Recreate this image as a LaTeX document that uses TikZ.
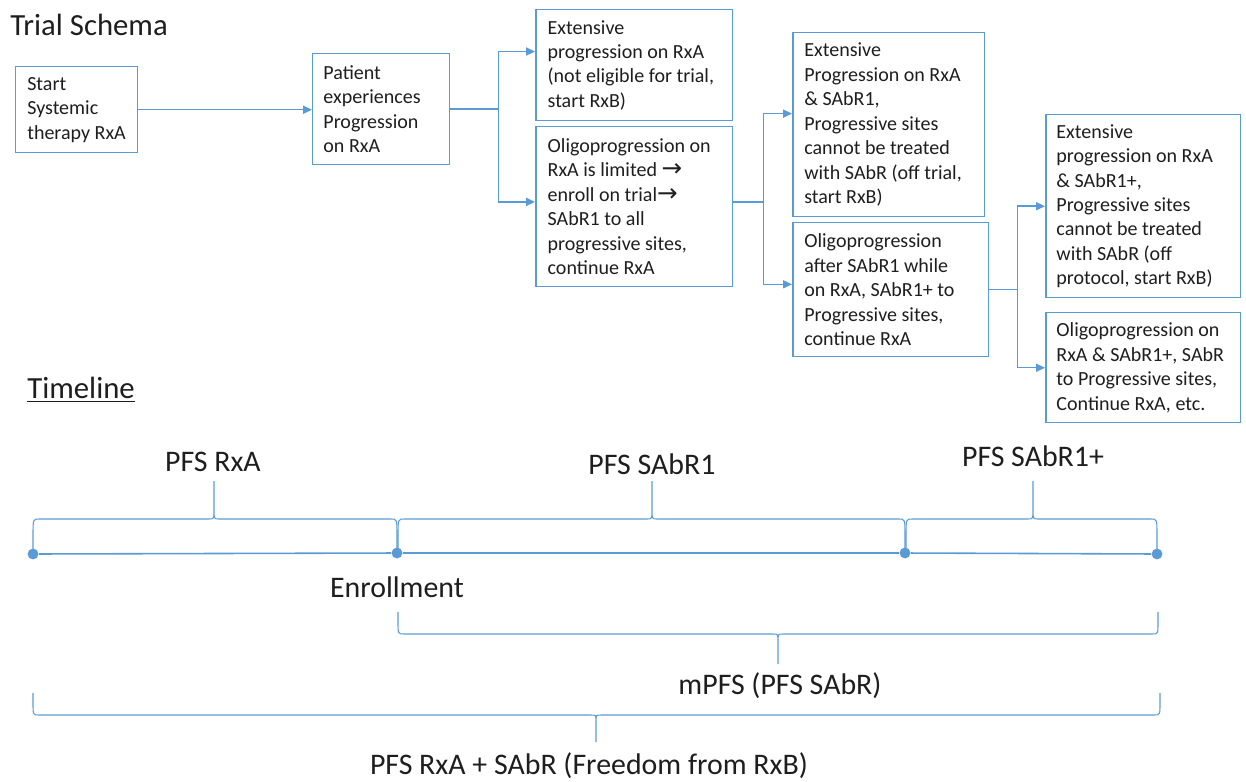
\documentclass[tikz,border=0pt]{standalone}
\usepackage{fontspec}
\setmainfont{Carlito}
\newfontfamily\symf{DejaVu Sans}
\usetikzlibrary{arrows.meta,calc}
\definecolor{bl}{HTML}{5B9BD5}
\definecolor{tx}{HTML}{1E1E1E}
\newcommand\tlbrace[6]{% x1 x2 xm yend yline ytip
  \draw[brc] (#1,#4) -- (#1,{#5+0.55*(#4-#5)}) .. controls (#1,#5) .. (#1+6,#5)
    -- (#3-5,#5) .. controls (#3,#5) .. (#3,{#5+0.25*(#6-#5)}) -- (#3,#6)
    (#3,{#5+0.25*(#6-#5)}) .. controls (#3,#5) .. (#3+5,#5)
    -- (#2-6,#5) .. controls (#2,#5) .. (#2,{#5+0.55*(#4-#5)}) -- (#2,#4);}
\newcommand\rarr{{\symf\fontsize{14}{13.9}\selectfont →}}
\begin{document}
\begin{tikzpicture}[x=0.02cm,y=-0.02cm,
  box/.style={draw=bl, line width=0.85pt, anchor=north west, inner sep=0pt},
  txt/.style={anchor=west, align=left, inner sep=0pt, text=tx, font=\fontsize{11.4}{13.9}\selectfont},
  arr/.style={draw=bl, line width=0.85pt, -{Triangle[length=5pt,width=4.5pt]}},
  tl/.style={draw=bl, line width=0.9pt},
  brc/.style={draw=bl, line width=0.6pt},
  dot/.style={circle, fill=bl, inner sep=0pt, minimum size=6.2pt},
  lab/.style={text=tx, font=\fontsize{17}{20}\selectfont},
  head/.style={anchor=west, text=tx, inner sep=0pt}]
\useasboundingbox (0,0) rectangle (1246,781);

\node[head, font=\fontsize{17.5}{21}\selectfont] (title) at (10,25) {Trial Schema};

% boxes
\node[box, minimum width=2.44cm, minimum height=1.72cm] (A) at (15,66) {};
\node[box, minimum width=2.74cm, minimum height=2.22cm] (B) at (312,53) {};
\node[box, minimum width=3.94cm, minimum height=2.22cm] (C) at (535,9) {};
\node[box, minimum width=3.94cm, minimum height=3.2cm] (D) at (535,126) {};
\node[box, minimum width=3.84cm, minimum height=3.68cm] (E) at (792,32) {};
\node[box, minimum width=3.92cm, minimum height=2.68cm] (F) at (792,222) {};
\node[box, minimum width=3.9cm, minimum height=3.66cm] (G) at (1045,114) {};
\node[box, minimum width=3.9cm, minimum height=2.2cm] (H) at (1045,312) {};

\node[txt] (At) at ([xshift=6.8pt]A.west) {Start\\Systemic\\therapy RxA};
\node[txt] (Bt) at ([xshift=6.3pt]B.west) {Patient\\experiences\\Progression\\on RxA};
\node[txt] (Ct) at ([xshift=7pt]C.west) {Extensive\\progression on RxA\\(not eligible for trial,\\start RxB)};
\node[txt] (Dt) at ([xshift=7pt]D.west) {Oligoprogression on\\RxA is limited \rarr\\enroll on trial\rarr\\SAbR1 to all\\progressive sites,\\continue RxA};
\node[txt] (Et) at ([xshift=6.8pt]E.west) {Extensive\\Progression on RxA\\\& SAbR1,\\Progressive sites\\cannot be treated\\with SAbR (off trial,\\start RxB)};
\node[txt] (Ft) at ([xshift=6.8pt]F.west) {Oligoprogression\\after SAbR1 while\\on RxA, SAbR1+ to\\Progressive sites,\\continue RxA};
\node[txt] (Gt) at ([xshift=6.3pt]G.west) {Extensive\\progression on RxA\\\& SAbR1+,\\Progressive sites\\cannot be treated\\with SAbR (off\\protocol, start RxB)};
\node[txt] (Ht) at ([xshift=6.3pt]H.west) {Oligoprogression on\\RxA \& SAbR1+, SAbR\\to Progressive sites,\\Continue RxA, etc.};

% connectors
\draw[arr] (A.east) -- (A.east -| B.west);
\coordinate (Bo) at (B.east);
\coordinate (Cin) at ($(C.north west)!0.378!(C.south west)$);
\coordinate (Din) at ($(D.north west)!0.47!(D.south west)$);
\draw[arr] (Bo) -- ++(48,0) |- (Cin);
\draw[arr] (Bo) -- ++(48,0) |- (Din);
\coordinate (Do) at ($(D.north east)!0.47!(D.south east)$);
\coordinate (Ein) at ($(E.north west)!0.44!(E.south west)$);
\coordinate (Fin) at ($(F.north west)!0.46!(F.south west)$);
\draw[arr] (Do) -- ++(30,0) |- (Ein);
\draw[arr] (Do) -- ++(30,0) |- (Fin);
\draw[arr] (F.east) -- ++(28,0) |- (G.west);
\draw[arr] (F.east) -- ++(28,0) |- (H.west);

% timeline
\node[head, font=\fontsize{17.5}{21}\selectfont] (tlh) at (27,390) {\underline{Timeline}};
\node[dot] (t0) at (33,554) {};
\node[dot] (t1) at (397,553) {};
\node[dot] (t2) at (905,553) {};
\node[dot] (t3) at (1157,554) {};
\draw[tl] (t0) -- (t1) -- (t2) -- (t3);

\tlbrace{33}{397}{214}{550}{519}{481}
\tlbrace{398}{905}{652}{550}{519}{481}
\tlbrace{906}{1157}{1033}{550}{519}{481}
\tlbrace{398}{1158}{778}{612}{634}{664}
\tlbrace{33}{1160}{596}{693}{715}{742}

\node[lab] (l1) at (213,462) {PFS RxA};
\node[lab] (l2) at (652,464) {PFS SAbR1};
\node[lab] (l3) at (1033,456) {PFS SAbR1+};
\node[lab] (l4) at (397,587) {Enrollment};
\node[lab] (l5) at (780,686) {mPFS (PFS SAbR)};
\node[lab] (l6) at (589,766) {PFS RxA + SAbR (Freedom from RxB)};
\end{tikzpicture}
\end{document}
